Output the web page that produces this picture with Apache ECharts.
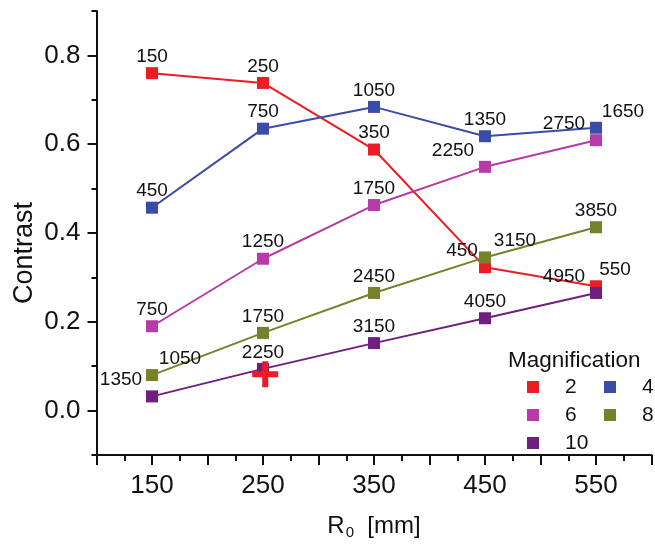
<!DOCTYPE html>
<html>
<head>
<meta charset="utf-8">
<script src="https://cdn.jsdelivr.net/npm/echarts@6/dist/echarts.min.js"></script>
<style>html,body{margin:0;padding:0;background:#fff}#c{width:655px;height:545px}</style>
</head>
<body>
<div id="c"></div>
<script>
// ---- data ----
const xValues = [150, 250, 350, 450, 550];
const seriesNames = ['2', '4', '6', '8', '10'];
const mag2 = [0.760, 0.738, 0.588, 0.323, 0.280];
const mag4 = [0.457, 0.635, 0.684, 0.618, 0.637];
const mag6 = [0.190, 0.342, 0.463, 0.549, 0.609];
const mag8 = [0.080, 0.175, 0.265, 0.345, 0.413];
const mag10 = [0.032, 0.094, 0.152, 0.208, 0.265];
const lab2 = ['150', '250', '350', '450', '550'];
const lab4 = ['450', '750', '1050', '1350', '1650'];
const lab6 = ['750', '1250', '1750', '2250', '2750'];
const lab8 = ['1050', '1750', '2450', '3150', '3850'];
const lab10 = ['1350', '2250', '3150', '4050', '4950'];
const crossPoint = [[252, 0.082]];
const yTickLabels = [0, 0.2, 0.4, 0.6, 0.8];
const yMinorTicks = [-0.1, 0.1, 0.3, 0.5, 0.7, 0.9];

// ---- styles ----
const FONT = '"Liberation Sans", Arial, Helvetica, sans-serif';
const colors = ['#ED1C24', '#3A4BA8', '#B83AA8', '#76812A', '#6E1F80'];
const allVals = [mag2, mag4, mag6, mag8, mag10];
const allLabs = [lab2, lab4, lab6, lab8, lab10];
// horizontal label shifts (px) per series/point
const labelShift = [
  [0, 0, 0, -23, 19],
  [0, 0, 0, 0, 27],
  [0, 0, 0, -32, -32],
  [28, 0, 0, 30, 0],
  [-31, 0, 0, 0, -32]
];

const series = allVals.map((vals, si) => ({
  name: seriesNames[si],
  type: 'line',
  xAxisIndex: 0,
  yAxisIndex: 0,
  symbol: 'rect',
  symbolSize: 12,
  showAllSymbol: true,
  lineStyle: { color: colors[si], width: 2 },
  itemStyle: { color: colors[si] },
  z: 3 + si,
  data: vals.map((v, i) => ({
    value: [xValues[i], v],
    label: {
      show: true,
      formatter: allLabs[si][i],
      position: 'top',
      distance: 1,
      offset: [labelShift[si][i], 0],
      color: '#111',
      fontSize: 19,
      fontFamily: FONT
    }
  }))
}));

series.push({
  name: 'cross',
  type: 'scatter',
  symbol: 'path://M10,0h6v10h10v6h-10v10h-6v-10h-10v-6h10z',
  symbolSize: 26,
  symbolKeepAspect: true,
  itemStyle: { color: '#ED1C24', borderWidth: 0, opacity: 1 },
  zlevel: 1,
  z: 20,
  silent: true,
  data: crossPoint
});

const legends = seriesNames.map((n, i) => {
  const col = i % 2, row = Math.floor(i / 2);
  return {
    data: [n],
    left: col === 0 ? 527 : 604,
    top: 375 + row * 28,
    padding: 0,
    itemWidth: 12,
    itemHeight: 12,
    icon: 'rect',
    selectedMode: false,
    textStyle: { fontSize: 21, fontFamily: FONT, color: '#111', padding: [0, 0, 0, 21], lineHeight: 24 }
  };
});

const option = {
  animation: false,
  backgroundColor: '#fff',
  textStyle: { fontFamily: FONT },
  title: {
    text: 'Magnification',
    left: 508,
    top: 349,
    padding: 0,
    textStyle: { fontSize: 22.5, fontWeight: 'normal', fontFamily: FONT, color: '#111' }
  },
  legend: legends,
  grid: { left: 96.5, right: 3.5, top: 11, bottom: 89, containLabel: false },
  xAxis: [{
    type: 'value',
    min: 100, max: 600, interval: 50,
    position: 'bottom',
    name: '{a|R}{b|0}{a|  [mm]}',
    nameLocation: 'middle',
    nameGap: 58,
    nameTextStyle: {
      rich: {
        a: { fontSize: 24, fontFamily: FONT, color: '#111' },
        b: { fontSize: 15, fontFamily: FONT, color: '#111', padding: [12, 0, 0, 1] }
      }
    },
    axisLine: { show: true, onZero: false, lineStyle: { color: '#111', width: 2 } },
    axisTick: { show: true, inside: false, length: 10, lineStyle: { color: '#111', width: 2 } },
    minorTick: { show: true, splitNumber: 2, length: 6, lineStyle: { color: '#111', width: 2 } },
    splitLine: { show: false },
    axisLabel: {
      fontSize: 26, color: '#111', fontFamily: FONT, margin: 18,
      formatter: v => ((v - 150) % 100 === 0 ? String(v) : '')
    }
  }],
  yAxis: [{
    type: 'value',
    min: -0.1, max: 0.9,
    position: 'left',
    axisLine: { show: true, onZero: false, lineStyle: { color: '#111', width: 2 } },
    axisTick: { show: true, inside: false, length: 9, customValues: yTickLabels, lineStyle: { color: '#111', width: 2 } },
    splitLine: { show: false },
    axisLabel: {
      fontSize: 26, color: '#111', fontFamily: FONT, margin: 16,
      customValues: yTickLabels,
      formatter: v => Number(v).toFixed(1)
    }
  }, {
    type: 'value',
    min: -0.1, max: 0.9,
    position: 'left',
    axisLine: { show: false, onZero: false },
    axisTick: { show: true, inside: false, length: 5, customValues: yMinorTicks, lineStyle: { color: '#111', width: 2 } },
    splitLine: { show: false },
    axisLabel: { show: false }
  }],
  graphic: [{
    type: 'text',
    x: 25, y: 253,
    rotation: Math.PI / 2,
    style: {
      text: 'Contrast',
      fontSize: 27,
      fontFamily: FONT,
      fill: '#111',
      align: 'center',
      verticalAlign: 'middle'
    }
  }],
  series: series
};

const chart = echarts.init(document.getElementById('c'), null, { renderer: 'canvas' });
chart.setOption(option);
</script>
</body>
</html>
